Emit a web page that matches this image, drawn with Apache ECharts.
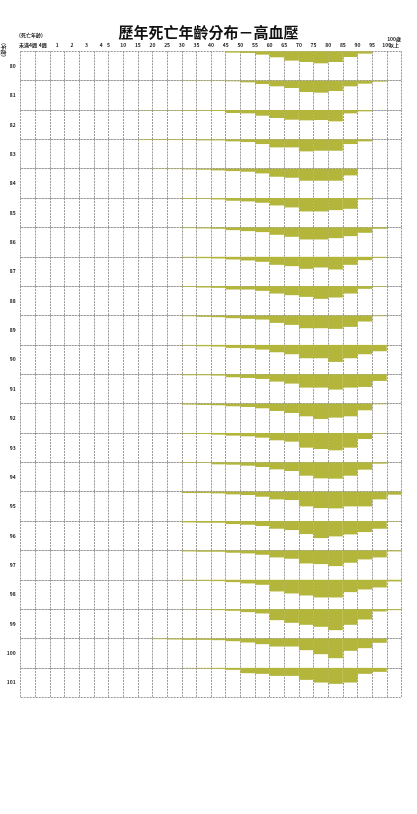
<!DOCTYPE html>
<html>
<head>
<meta charset="utf-8">
<script src="https://cdn.jsdelivr.net/npm/echarts@6/dist/echarts.min.js"></script>
<style>
  html, body { margin: 0; padding: 0; background: #fff; }
  #chart { width: 417px; height: 814px; }
</style>
</head>
<body>
<div id="chart"></div>
<script>
  // columns: age groups at death
  let ageGroups = ['未滿4週', '4週', '1', '2', '3', '4', '5', '10', '15', '20', '25', '30', '35', '40', '45', '50', '55', '60', '65', '70', '75', '80', '85', '90', '95', '100']
  let lastLabel = '100歲\n以上'
  // rows: year (ROC)
  let years = ['80', '81', '82', '83', '84', '85', '86', '87', '88', '89', '90', '91', '92', '93', '94', '95', '96', '97', '98', '99', '100', '101']

  // bar depth per age group (row height = 88)
  //          未滿4週..10 (8 cols)   15 20 25 30 35 40 45 50 55 60 65 70 75 80 85 90 95 100+
  let y80  = [0, 0, 0, 0, 0, 0, 0, 0, 0, 0, 0, 0, 0, 0, 4, 5, 10, 18, 28, 32, 36, 32, 17, 7, 0, 0]
  let y81  = [0, 0, 0, 0, 0, 0, 0, 0, 0, 0, 0, 1, 1, 1, 2, 5, 10, 17, 22, 34, 36, 31, 17, 9, 3, 0]
  let y82  = [0, 0, 0, 0, 0, 0, 0, 0, 1, 1, 1, 2, 2, 3, 9, 10, 17, 24, 29, 31, 30, 34, 10, 4, 0, 0]
  let y83  = [0, 0, 0, 0, 0, 0, 0, 0, 2, 2, 2, 2, 3, 3, 6, 8, 14, 24, 24, 36, 34, 34, 14, 6, 0, 0]
  let y84  = [0, 0, 0, 0, 0, 0, 0, 0, 0, 1, 1, 2, 3, 5, 7, 9, 14, 24, 27, 36, 36, 36, 20, 0, 0, 0]
  let y85  = [0, 0, 0, 0, 0, 0, 0, 0, 0, 0, 0, 2, 2, 4, 8, 10, 14, 22, 28, 40, 40, 36, 32, 4, 0, 0]
  let y86  = [0, 0, 0, 0, 0, 0, 0, 0, 0, 0, 0, 2, 3, 4, 8, 11, 14, 22, 28, 36, 36, 32, 26, 16, 4, 0]
  let y87  = [0, 0, 0, 0, 0, 0, 0, 0, 0, 0, 0, 2, 4, 5, 8, 11, 15, 24, 28, 36, 32, 38, 24, 10, 3, 0]
  let y88  = [0, 0, 0, 0, 0, 0, 0, 0, 0, 0, 0, 2, 4, 5, 10, 10, 14, 22, 27, 32, 38, 34, 22, 8, 2, 0]
  let y89  = [0, 0, 0, 0, 0, 0, 0, 0, 0, 0, 0, 2, 4, 5, 8, 10, 12, 22, 28, 38, 38, 40, 34, 18, 2, 0]
  let y90  = [0, 0, 0, 0, 0, 0, 0, 0, 0, 0, 0, 2, 4, 5, 9, 10, 14, 22, 28, 40, 40, 51, 40, 28, 19, 0]
  let y91  = [0, 0, 0, 0, 0, 0, 0, 0, 0, 0, 0, 3, 3, 4, 9, 11, 14, 22, 28, 40, 40, 46, 40, 38, 20, 0]
  let y92  = [0, 0, 0, 0, 0, 0, 0, 0, 0, 0, 0, 3, 4, 5, 8, 10, 14, 22, 28, 38, 46, 42, 38, 20, 2, 0]
  let y93  = [0, 0, 0, 0, 0, 0, 0, 0, 0, 0, 0, 2, 3, 5, 8, 10, 14, 22, 26, 44, 48, 52, 44, 18, 2, 0]
  let y94  = [0, 0, 0, 0, 0, 0, 0, 0, 0, 0, 0, 2, 2, 6, 7, 10, 14, 21, 26, 40, 48, 49, 40, 22, 4, 0]
  let y95  = [0, 0, 0, 0, 0, 0, 0, 0, 0, 0, 0, 4, 4, 5, 8, 10, 15, 23, 25, 44, 49, 50, 44, 44, 23, 9]
  let y96  = [0, 0, 0, 0, 0, 0, 0, 0, 0, 0, 0, 4, 5, 5, 9, 11, 15, 23, 27, 39, 51, 46, 40, 33, 23, 1]
  let y97  = [0, 0, 0, 0, 0, 0, 0, 0, 0, 0, 0, 3, 4, 4, 7, 9, 13, 21, 25, 39, 41, 47, 37, 27, 21, 3]
  let y98  = [0, 0, 0, 0, 0, 0, 0, 0, 0, 0, 0, 2, 3, 4, 7, 11, 15, 35, 41, 47, 53, 53, 37, 29, 23, 5]
  let y99  = [0, 0, 0, 0, 0, 0, 0, 0, 0, 0, 0, 1, 2, 3, 5, 9, 13, 33, 41, 47, 53, 63, 47, 31, 7, 3]
  let y100 = [0, 0, 0, 0, 0, 0, 0, 0, 0, 2, 3, 4, 4, 5, 8, 12, 17, 24, 24, 35, 47, 59, 37, 29, 13, 0]
  let y101 = [0, 0, 0, 0, 0, 0, 0, 0, 0, 0, 0, 1, 2, 3, 6, 16, 18, 24, 24, 36, 44, 48, 44, 18, 12, 0]
  let rows = [y80, y81, y82, y83, y84, y85, y86, y87, y88, y89, y90, y91, y92, y93, y94, y95, y96, y97, y98, y99, y100, y101]

  let font = '"Noto Sans CJK TC", "Noto Sans", sans-serif'
  let rowTop = 51.3
  let rowH = 29.36
  let gridLine = {color: '#999', type: [2, 1], width: 1}

  // header labels: first 6 groups centred on their column, the rest sit on the left edge
  let headMap = {}
  ageGroups.forEach((a, i) => {
    let pos = i < 6 ? i + 0.5 : i
    headMap[pos.toFixed(1)] = a
  })
  headMap[(ageGroups.length - 0.5).toFixed(1)] = lastLabel

  let grid = []
  let xAxis = []
  let yAxis = []
  let series = []
  rows.forEach((row, i) => {
    grid.push({left: 20.7, right: 15.6, top: rowTop + i * rowH, height: rowH})
    xAxis.push({
      gridIndex: i,
      type: 'category',
      data: ageGroups,
      boundaryGap: true,
      axisLine: {show: false},
      axisTick: {show: false},
      axisLabel: {show: false},
      splitLine: {show: true, interval: 0, lineStyle: gridLine}
    })
    yAxis.push({
      gridIndex: i,
      type: 'value',
      inverse: true,
      min: 0,
      max: 88,
      interval: 88,
      axisLine: {show: false},
      axisTick: {show: false},
      axisLabel: {show: false},
      splitLine: {show: true, lineStyle: gridLine},
      name: years[i],
      nameLocation: 'middle',
      nameRotate: 0,
      nameGap: 5,
      nameTextStyle: {fontSize: 5, fontWeight: 'bold', color: '#222', fontFamily: font}
    })
    series.push({
      type: 'bar',
      xAxisIndex: i,
      yAxisIndex: i,
      data: row,
      barWidth: '100%',
      silent: true,
      itemStyle: {color: '#b3b63b'}
    })
  })

  // top header axis
  xAxis.push({
    gridIndex: 0,
    type: 'value',
    position: 'top',
    min: 0,
    max: ageGroups.length,
    interval: 0.5,
    axisLine: {show: false},
    axisTick: {show: false},
    splitLine: {show: false},
    axisLabel: {
      margin: 3,
      fontSize: 5,
      lineHeight: 6,
      fontWeight: 'bold',
      color: '#222',
      fontFamily: font,
      formatter: v => headMap[v.toFixed(1)] || ''
    }
  })

  let option = {
    backgroundColor: '#fff',
    animation: false,
    title: {
      text: '歷年死亡年齡分布－高血壓',
      left: 'center',
      top: 20,
      textStyle: {fontSize: 15, fontWeight: 'bold', color: '#111', fontFamily: font}
    },
    graphic: [
      {type: 'text', left: 19, top: 33, style: {text: '(死亡年齡)', fill: '#222', font: 'bold 5px ' + font}},
      {type: 'text', x: 6, y: 43, rotation: -Math.PI / 2, style: {text: '(年度)', fill: '#222', font: 'bold 5px ' + font}}
    ],
    grid: grid,
    xAxis: xAxis,
    yAxis: yAxis,
    series: series
  }

  let chart = echarts.init(document.getElementById('chart'))
  chart.setOption(option)
</script>
</body>
</html>
